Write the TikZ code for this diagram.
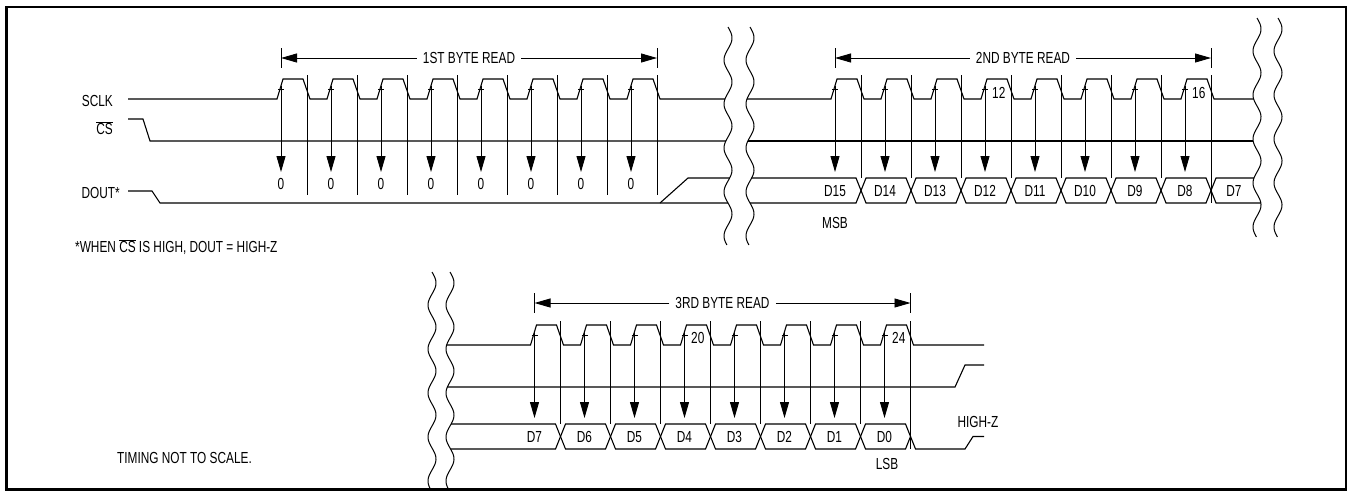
\documentclass[tikz,border=0pt]{standalone}
\usepackage{fontspec}
\setmainfont{Liberation Sans}[FakeStretch=0.74]
\usetikzlibrary{arrows.meta}
\newcommand\wv[3]{(#1)+4*sin(8.1818*((#3)-(#2)))}
\begin{document}
\begin{tikzpicture}[x=1pt,y=-1pt,
  sig/.style={line width=1.1pt, line join=miter},
  tl/.style={line width=0.9pt},
  darr/.style={-{Triangle[length=16pt,width=9pt]}, line width=0.9pt},
  lbl/.style={inner sep=0pt},
  brk/.style={line width=1pt},
  font=\fontsize{16}{19}\selectfont]
\useasboundingbox (0,0) rectangle (1351,496);
\draw[line width=2.4pt] (6.5,7) rectangle (1346,489.5);

% ---------- break lines ----------
\draw[brk] plot[domain=27:245, samples=150, smooth] ({\wv{728}{27}{\x}}, \x);
\draw[brk] plot[domain=27:245, samples=150, smooth] ({\wv{750}{27}{\x}}, \x);
\draw[brk] plot[domain=18:237, samples=150, smooth] ({\wv{1257}{18}{\x}}, \x);
\draw[brk] plot[domain=18:237, samples=150, smooth] ({\wv{1278}{18}{\x}}, \x);
\draw[brk] plot[domain=272:490, samples=150, smooth] ({\wv{432}{272}{\x}}, \x);
\draw[brk] plot[domain=272:490, samples=150, smooth] ({\wv{450}{272}{\x}}, \x);

% ---------- signal names ----------
\node[lbl, anchor=east] (sclk) at (113,101) {SCLK};
\node[lbl, anchor=east] (cs) at (113,128) {$\overline{\mbox{CS}}$};
\node[lbl, anchor=east] (dout) at (120,193) {DOUT*};
\node[lbl, anchor=west] (note) at (75,247) {*WHEN $\overline{\mbox{CS}}$ IS HIGH, DOUT = HIGH-Z};
\node[lbl, anchor=west] (tns) at (117,458) {TIMING NOT TO SCALE.};

% ================= SECTION 1 =================
\draw[sig] (128,99) -- (277,99)
  \foreach \k [evaluate=\k as \a using 281+50*\k] in {0,...,7}{
    -- ({\a-4},99) -- ({\a+2},79) -- ({\a+22},79) -- ({\a+29},99) }
  -- ({\wv{728}{27}{99}},99);
\draw[sig] (128,119) -- (143,119) -- (150,141) -- ({\wv{728}{27}{141}},141);
\draw[sig] (128,191) -- (152,191) -- (160,203) -- ({\wv{728}{27}{203}},203);
\draw[sig] (660,203) -- (688,178) -- ({\wv{728}{27}{178}},178);
\foreach \k [evaluate=\k as \a using 281+50*\k] in {0,...,7}{
  \draw[tl] ({\a-3},89) -- ({\a+3},89);
  \draw[darr] (\a,86) -- (\a,172);
  \draw[tl] ({\a+26},75) -- ({\a+26},195);
  \node[lbl] (z\k) at (\a,184) {0};
}
\draw[tl] (281,48) -- (281,68);
\draw[tl] (657,48) -- (657,68);
\node[lbl, inner xsep=6pt] (b1) at (469,58) {1ST BYTE READ};
\draw[darr] (b1.west) -- (281,58);
\draw[darr] (b1.east) -- (657,58);

% ================= SECTION 2 =================
\draw[sig] ({\wv{750}{27}{99}},99)
  \foreach \k [evaluate=\k as \a using 835+50*\k] in {0,...,7}{
    -- ({\a-4},99) -- ({\a+2},79) -- ({\a+22},79) -- ({\a+29},99) }
  -- ({\wv{1257}{18}{99}},99);
\draw[sig] ({\wv{750}{27}{141}},141) -- ({\wv{1257}{18}{141}},141);
% bus
\draw[sig] ({\wv{750}{27}{178}},178) -- (856,178) -- (861,190.5) -- (856,203) -- ({\wv{750}{27}{203}},203);
\foreach \k [evaluate=\k as \c using 861+50*\k] in {0,...,6}{
  \draw[sig] (\c,190.5) -- ({\c+5},178) -- ({\c+45},178) -- ({\c+50},190.5)
     -- ({\c+45},203) -- ({\c+5},203) -- cycle;
}
\draw[sig] ({\wv{1257}{18}{178}},178) -- (1216,178) -- (1211,190.5) -- (1216,203) -- ({\wv{1257}{18}{203}},203);
\foreach \k [evaluate=\k as \a using 835+50*\k] in {0,...,7}{
  \draw[tl] ({\a-3},89) -- ({\a+3},89);
  \draw[darr] (\a,86) -- (\a,172);
}
\foreach \k [evaluate=\k as \a using 835+50*\k] in {0,...,6}{
  \draw[tl] ({\a+26},75) -- ({\a+26},178);
}
\draw[tl] (1211,75) -- (1211,203);
\foreach \t [count=\k from 0, evaluate=\k as \a using 835+50*\k] in {D15,D14,D13,D12,D11,D10,D9,D8}{
  \node[lbl] (s\k) at (\a,191) {\t};
}
\node[lbl] (s8) at (1234,191) {D7};
\node[lbl] (msb) at (835,223) {MSB};
\node[lbl, anchor=west] (n12) at (992,93) {12};
\node[lbl, anchor=west] (n16) at (1192,93) {16};
\draw[tl] (835,48) -- (835,68);
\draw[tl] (1211,48) -- (1211,68);
\node[lbl, inner xsep=6pt] (b2) at (1023,58) {2ND BYTE READ};
\draw[darr] (b2.west) -- (835,58);
\draw[darr] (b2.east) -- (1211,58);

% ================= SECTION 3 =================
\draw[sig] ({\wv{450}{272}{345}},345)
  \foreach \k [evaluate=\k as \a using 534.5+50*\k] in {0,...,7}{
    -- ({\a-4},345) -- ({\a+2},325) -- ({\a+22},325) -- ({\a+29},345) }
  -- (984,345);
\draw[sig] ({\wv{450}{272}{387}},387) -- (955,387) -- (965,365) -- (984,365);
% bus
\draw[sig] ({\wv{450}{272}{424}},424) -- (555.5,424) -- (560.5,436.5) -- (555.5,449) -- ({\wv{450}{272}{449}},449);
\foreach \k [evaluate=\k as \c using 560.5+50*\k] in {0,...,5}{
  \draw[sig] (\c,436.5) -- ({\c+5},424) -- ({\c+45},424) -- ({\c+50},436.5)
     -- ({\c+45},449) -- ({\c+5},449) -- cycle;
}
\draw[sig] (860.5,436.5) -- (865.5,424) -- (905.5,424) -- (915.5,449) -- (965,449) -- (973,436.5) -- (984,436.5);
\draw[sig] (860.5,436.5) -- (865.5,449) -- (905.5,449) -- (910.5,436.5);
\foreach \k [evaluate=\k as \a using 534.5+50*\k] in {0,...,7}{
  \draw[tl] ({\a-3},335) -- ({\a+3},335);
  \draw[darr] (\a,332) -- (\a,418);
}
\foreach \k [evaluate=\k as \a using 534.5+50*\k] in {0,...,6}{
  \draw[tl] ({\a+26},321) -- ({\a+26},424);
}
\draw[tl] (910.5,321) -- (910.5,449);
\foreach \t [count=\k from 0, evaluate=\k as \a using 534.5+50*\k] in {D7,D6,D5,D4,D3,D2,D1,D0}{
  \node[lbl] (t\k) at (\a,437) {\t};
}
\node[lbl] (lsb) at (887,464) {LSB};
\node[lbl] (hz) at (978,422) {HIGH-Z};
\node[lbl, anchor=west] (n20) at (691,338) {20};
\node[lbl, anchor=west] (n24) at (892,338) {24};
\draw[tl] (534.5,293) -- (534.5,313);
\draw[tl] (910.5,293) -- (910.5,313);
\node[lbl, inner xsep=6pt] (b3) at (722.5,303) {3RD BYTE READ};
\draw[darr] (b3.west) -- (534.5,303);
\draw[darr] (b3.east) -- (910.5,303);
\end{tikzpicture}
\end{document}
